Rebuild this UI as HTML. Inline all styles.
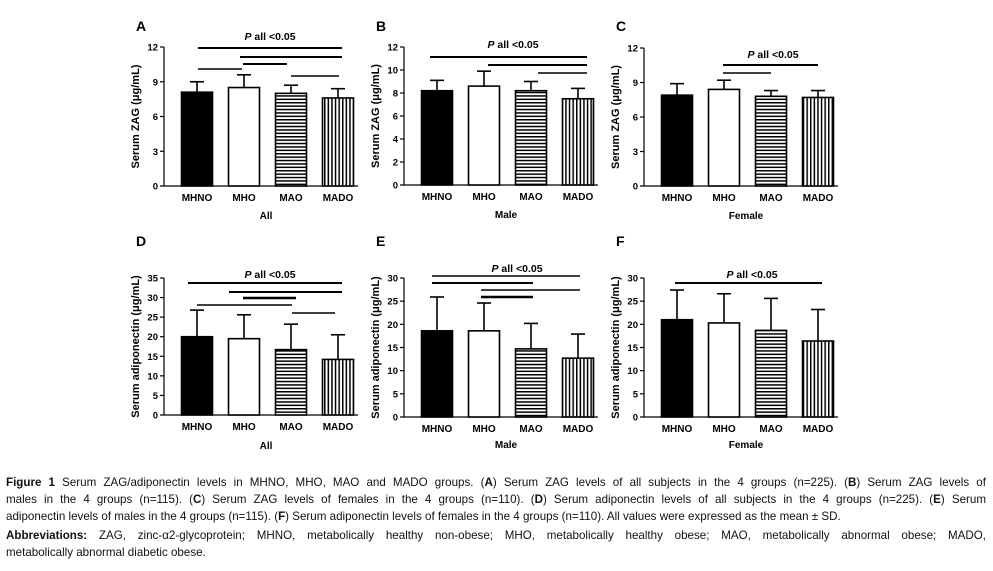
<!DOCTYPE html>
<html><head><meta charset="utf-8">
<style>
body{margin:0;background:#fff;width:993px;height:571px;overflow:hidden;position:relative;font-family:"Liberation Sans",sans-serif}
svg{position:absolute;left:0;top:0}
.cap{position:absolute;left:6px;width:980px;font-size:11.6px;line-height:17px;color:#111;text-align:justify;text-align-last:justify;white-space:nowrap}
.cap.l{text-align-last:left}
</style></head>
<body>
<svg id="fig" width="993" height="470" viewBox="0 0 993 470">
<defs>
<pattern id="hpat" width="6" height="3.4" patternUnits="userSpaceOnUse"><rect width="6" height="3.4" fill="#fff"/><rect width="6" height="1.5" fill="#000"/></pattern>
<pattern id="vpat" width="3.6" height="6" patternUnits="userSpaceOnUse"><rect width="3.6" height="6" fill="#fff"/><rect width="1.5" height="6" fill="#000"/></pattern>
</defs>
</svg>
<div class="cap" style="top:474px"><b>Figure 1</b> Serum ZAG/adiponectin levels in MHNO, MHO, MAO and MADO groups. (<b>A</b>) Serum ZAG levels of all subjects in the 4 groups (n=225). (<b>B</b>) Serum ZAG levels of</div>
<div class="cap" style="top:491px">males in the 4 groups (n=115). (<b>C</b>) Serum ZAG levels of females in the 4 groups (n=110). (<b>D</b>) Serum adiponectin levels of all subjects in the 4 groups (n=225). (<b>E</b>) Serum</div>
<div class="cap l" style="top:508px">adiponectin levels of males in the 4 groups (n=115). (<b>F</b>) Serum adiponectin levels of females in the 4 groups (n=110). All values were expressed as the mean ± SD.</div>
<div class="cap" style="top:527px"><b>Abbreviations:</b> ZAG, zinc-α2-glycoprotein; MHNO, metabolically healthy non-obese; MHO, metabolically healthy obese; MAO, metabolically abnormal obese; MADO,</div>
<div class="cap l" style="top:544px">metabolically abnormal diabetic obese.</div>
<script>
const categories = ["MHNO","MHO","MAO","MADO"];
const meanA = [8.1, 8.5, 8.0, 7.6];   const sdTopA = [9.0, 9.6, 8.7, 8.4];
const meanB = [8.2, 8.6, 8.2, 7.5];   const sdTopB = [9.1, 9.9, 9.0, 8.4];
const meanC = [7.9, 8.4, 7.8, 7.7];   const sdTopC = [8.9, 9.2, 8.3, 8.3];
const meanD = [20.0, 19.5, 16.7, 14.2]; const sdTopD = [26.8, 25.6, 23.2, 20.5];
const meanE = [18.6, 18.6, 14.7, 12.7]; const sdTopE = [25.9, 24.6, 20.2, 17.9];
const meanF = [21.0, 20.3, 18.7, 16.4]; const sdTopF = [27.4, 26.6, 25.6, 23.2];
const ticksA = [0,3,6,9,12];
const ticksB = [0,2,4,6,8,10,12];
const ticksC = [0,3,6,9,12];
const ticksD = [0,5,10,15,20,25,30,35];
const ticksE = [0,5,10,15,20,25,30];
const ticksF = [0,5,10,15,20,25,30];

const NS="http://www.w3.org/2000/svg";
const svg=document.getElementById('fig');
function mk(tag,attrs,parent){const e=document.createElementNS(NS,tag);for(const k in attrs)e.setAttribute(k,attrs[k]);(parent||svg).appendChild(e);return e;}
const fills=["#000","#fff","url(#hpat)","url(#vpat)"];

const panels=[
 {id:'a',letter:'A',ax:164,y0:186,yT:47,max:12,means:meanA,tops:sdTopA,ticks:ticksA,title:'Serum ZAG (μg/mL)',group:'All',gy:219,
  p:[270,40],sig:[[198,342,48,2],[240,342,57,2],[198,242,69,1.6],[243,287,64,2],[291,339,76,1.6]]},
 {id:'b',letter:'B',ax:404,y0:185,yT:47,max:12,means:meanB,tops:sdTopB,ticks:ticksB,title:'Serum ZAG (μg/mL)',group:'Male',gy:218,
  p:[513,48],sig:[[430,587,57,2],[488,587,65,2],[538,587,73,1.6]]},
 {id:'c',letter:'C',ax:644,y0:186,yT:48,max:12,means:meanC,tops:sdTopC,ticks:ticksC,title:'Serum ZAG (μg/mL)',group:'Female',gy:219,
  p:[773,58],sig:[[723,818,65,2],[723,771,73,1.6]]},
 {id:'d',letter:'D',ax:164,y0:415,yT:278,max:35,means:meanD,tops:sdTopD,ticks:ticksD,title:'Serum adiponectin (μg/mL)',group:'All',gy:449,
  p:[270,278],sig:[[188,342,283,2],[229,342,292,2],[243,296,298,2.4],[197,292,305,1.6],[292,335,313,1.6]]},
 {id:'e',letter:'E',ax:404,y0:417,yT:278,max:30,means:meanE,tops:sdTopE,ticks:ticksE,title:'Serum adiponectin (μg/mL)',group:'Male',gy:448,
  p:[517,272],sig:[[432,580,276,1.6],[432,533,283,2],[481,580,290,1.6],[481,533,297,2.4]]},
 {id:'f',letter:'F',ax:644,y0:417,yT:278,max:30,means:meanF,tops:sdTopF,ticks:ticksF,title:'Serum adiponectin (μg/mL)',group:'Female',gy:448,
  p:[752,278],sig:[[675,822,283,2]]}
];

panels.forEach(P=>{
  const g=mk('g',{});
  
  
  const ys=v=>P.y0-(v/P.max)*(P.y0-P.yT);
  const xc=i=>P.ax+33+i*47;
  // letter
  const L=mk('text',{x:P.ax-28,y:(P.id<'d'?31:246),'font-size':14,'font-weight':'bold'},g);L.textContent=P.letter;
  
  // axes
  const ya=mk('line',{x1:P.ax,y1:P.yT,x2:P.ax,y2:P.y0,stroke:'#000','stroke-width':1.2},g);
  
  const xa=mk('line',{x1:P.ax,y1:P.y0,x2:P.ax+194,y2:P.y0,stroke:'#000','stroke-width':1.2},g);
  
  P.ticks.forEach(t=>{
    mk('line',{x1:P.ax-4,y1:ys(t),x2:P.ax,y2:ys(t),stroke:'#000','stroke-width':1.2},g);
    const tl=mk('text',{x:P.ax-6,y:ys(t)+3.5,'font-size':9.5,'font-weight':'bold','text-anchor':'end'},g);
    tl.textContent=t;
    
  });
  const yc=(P.y0+P.yT)/2;
  const yt=mk('text',{x:0,y:0,'font-size':11,'font-weight':'bold','text-anchor':'middle',transform:`translate(${P.ax-25},${yc}) rotate(-90)`},g);
  yt.textContent=P.title;
  
  categories.forEach((c,i)=>{
    const x=xc(i), top=ys(P.means[i]), et=ys(P.tops[i]);
    mk('line',{x1:x,y1:top,x2:x,y2:et,stroke:'#000','stroke-width':1.6},g);
    mk('line',{x1:x-7,y1:et,x2:x+7,y2:et,stroke:'#000','stroke-width':1.6},g);
    const b=mk('rect',{x:x-15.5,y:top,width:31,height:P.y0-top,fill:fills[i],stroke:'#000','stroke-width':1.6},g);
    
    const cl=mk('text',{x:x,y:P.y0+15,'font-size':10,'font-weight':'bold','text-anchor':'middle'},g);
    cl.textContent=c;
    
  });
  const gl=mk('text',{x:P.ax+102,y:P.gy,'font-size':10,'font-weight':'bold','text-anchor':'middle'},g);
  gl.textContent=P.group;
  
  const pt=mk('text',{x:P.p[0],y:P.p[1],'font-size':10.5,'font-weight':'bold','text-anchor':'middle'},g);
  pt.innerHTML='<tspan font-style="italic">P</tspan> all &lt;0.05';
  
  P.sig.forEach(s=>{
    const sl=mk('line',{x1:s[0],y1:s[2],x2:s[1],y2:s[2],stroke:'#000','stroke-width':s[3]},g);
    
  });
});
</script>
</body></html>
